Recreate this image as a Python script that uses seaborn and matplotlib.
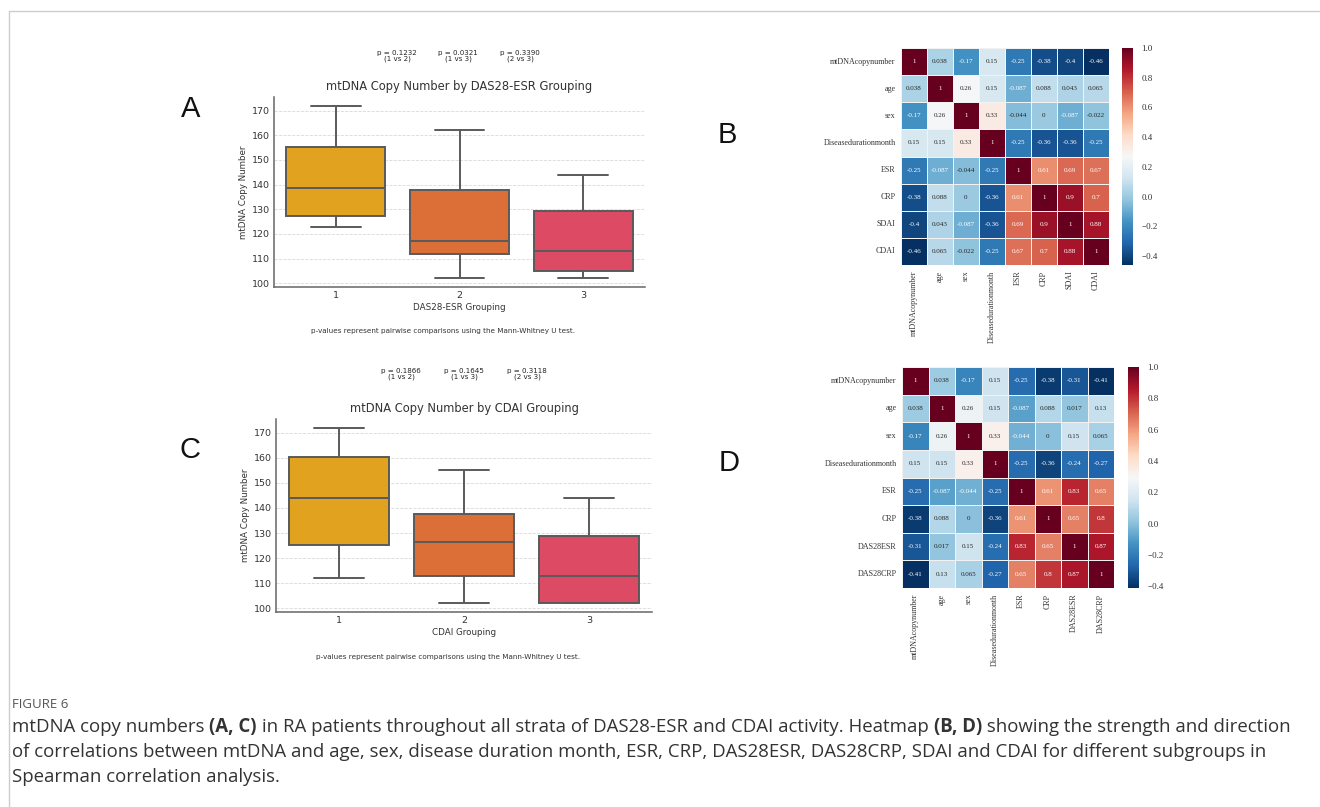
import numpy as np
import pandas as pd
import matplotlib
matplotlib.use("Agg")
import matplotlib.pyplot as plt
from matplotlib.lines import Line2D
import seaborn as sns

W, H = 1320, 807

groups = ["1", "2", "3"]
box_colors = ["#E0A21F", "#DC6E38", "#DD4A64"]

# five-number summaries: whisker low, Q1, median, Q3, whisker high
das28_g1 = [123, 127.3, 138.7, 155.2, 172]
das28_g2 = [102, 112, 117, 138, 162]
das28_g3 = [102, 105, 113, 129.5, 144]
cdai_g1 = [112, 125.3, 144, 160.5, 172]
cdai_g2 = [102, 113, 126.5, 137.5, 155]
cdai_g3 = [102, 102, 113, 129, 144]

das28_p = ["p = 0.1232\n(1 vs 2)", "p = 0.0321\n(1 vs 3)", "p = 0.3390\n(2 vs 3)"]
cdai_p = ["p = 0.1866\n(1 vs 2)", "p = 0.1645\n(1 vs 3)", "p = 0.3118\n(2 vs 3)"]

labels_b = ["mtDNAcopynumber", "age", "sex", "Diseasedurationmonth", "ESR", "CRP", "SDAI", "CDAI"]
corr_b = [
    [1, 0.038, -0.17, 0.15, -0.25, -0.38, -0.4, -0.46],
    [0.038, 1, 0.26, 0.15, -0.087, 0.088, 0.043, 0.065],
    [-0.17, 0.26, 1, 0.33, -0.044, 0, -0.087, -0.022],
    [0.15, 0.15, 0.33, 1, -0.25, -0.36, -0.36, -0.25],
    [-0.25, -0.087, -0.044, -0.25, 1, 0.61, 0.69, 0.67],
    [-0.38, 0.088, 0, -0.36, 0.61, 1, 0.9, 0.7],
    [-0.4, 0.043, -0.087, -0.36, 0.69, 0.9, 1, 0.88],
    [-0.46, 0.065, -0.022, -0.25, 0.67, 0.7, 0.88, 1],
]

labels_d = ["mtDNAcopynumber", "age", "sex", "Diseasedurationmonth", "ESR", "CRP", "DAS28ESR", "DAS28CRP"]
corr_d = [
    [1, 0.038, -0.17, 0.15, -0.25, -0.38, -0.31, -0.41],
    [0.038, 1, 0.26, 0.15, -0.087, 0.088, 0.017, 0.13],
    [-0.17, 0.26, 1, 0.33, -0.044, 0, 0.15, 0.065],
    [0.15, 0.15, 0.33, 1, -0.25, -0.36, -0.24, -0.27],
    [-0.25, -0.087, -0.044, -0.25, 1, 0.61, 0.83, 0.65],
    [-0.38, 0.088, 0, -0.36, 0.61, 1, 0.65, 0.8],
    [-0.31, 0.017, 0.15, -0.24, 0.83, 0.65, 1, 0.87],
    [-0.41, 0.13, 0.065, -0.27, 0.65, 0.8, 0.87, 1],
]

sns.set_style("white")
plt.rcParams["font.family"] = ["DejaVu Sans"]

fig = plt.figure(figsize=(W / 100, H / 100), dpi=100)


def px_axes(l, t, r, b):
    return fig.add_axes([l / W, 1 - b / H, (r - l) / W, (b - t) / H])


def px_text(x, y, s, **kw):
    return fig.text(x / W, 1 - y / H, s, **kw)


def draw_box(ax, g1, g2, g3, title, xlabel):
    df = pd.DataFrame({
        "group": [groups[0]] * len(g1) + [groups[1]] * len(g2) + [groups[2]] * len(g3),
        "value": g1 + g2 + g3,
    })
    sns.boxplot(data=df, x="group", y="value", hue="group", palette=box_colors,
                saturation=1, width=0.8, linewidth=1.4, linecolor="#5a5a5a",
                legend=False, ax=ax)
    ax.set_title(title, fontsize=8.3, color="#333333", pad=5)
    ax.set_xlabel(xlabel, fontsize=6.3, color="#333333", labelpad=2)
    ax.set_ylabel("mtDNA Copy Number", fontsize=6.3, color="#333333", labelpad=3)
    ax.set_yticks([100, 110, 120, 130, 140, 150, 160, 170])
    ax.tick_params(labelsize=6.8, colors="#333333", length=0, pad=3)
    ax.yaxis.grid(True, linestyle="--", color="#d9d9d9", linewidth=0.6)
    ax.xaxis.grid(False)
    ax.set_axisbelow(True)
    for s in ["top", "right"]:
        ax.spines[s].set_visible(False)
    for s in ["left", "bottom"]:
        ax.spines[s].set_color("#666666")
        ax.spines[s].set_linewidth(1.1)


def draw_heat(ax, cax, corr, labels):
    df = pd.DataFrame(corr, index=labels, columns=labels)
    sns.heatmap(df, ax=ax, cbar_ax=cax, cmap="RdBu_r", annot=True, fmt=".2g",
                annot_kws={"size": 5.0, "family": "Liberation Serif"},
                linewidths=0.4, linecolor="#f2f2f2")
    ax.set_xticklabels(labels, rotation=90, fontsize=5.8, family="Liberation Serif", color="#333333")
    ax.set_yticklabels(labels, rotation=0, fontsize=5.8, family="Liberation Serif", color="#333333")
    ax.tick_params(length=0, pad=4)
    cax.tick_params(labelsize=6.5, length=0, pad=6)
    for t in cax.get_yticklabels():
        t.set_family("Liberation Serif")
        t.set_color("#333333")


# A
axA = px_axes(274, 97, 645, 287)
draw_box(axA, das28_g1, das28_g2, das28_g3, "mtDNA Copy Number by DAS28-ESR Grouping", "DAS28-ESR Grouping")
for x, s in zip([397, 458, 520], das28_p):
    px_text(x, 56, s, ha="center", va="center", fontsize=5.1, color="#222222", linespacing=1.0)
px_text(443, 331, "p-values represent pairwise comparisons using the Mann-Whitney U test.",
        ha="center", va="center", fontsize=5.2, color="#333333")

# C
axC = px_axes(276, 419, 652, 612)
draw_box(axC, cdai_g1, cdai_g2, cdai_g3, "mtDNA Copy Number by CDAI Grouping", "CDAI Grouping")
for x, s in zip([401, 464, 527], cdai_p):
    px_text(x, 374, s, ha="center", va="center", fontsize=5.1, color="#222222", linespacing=1.0)
px_text(448, 657, "p-values represent pairwise comparisons using the Mann-Whitney U test.",
        ha="center", va="center", fontsize=5.2, color="#333333")

# B
axB = px_axes(901, 48, 1109, 265)
caxB = px_axes(1122, 48, 1133, 265)
draw_heat(axB, caxB, corr_b, labels_b)

# D
axD = px_axes(902, 367, 1114, 588)
caxD = px_axes(1128, 367, 1139, 588)
draw_heat(axD, caxD, corr_d, labels_d)

# panel letters
for x, y, s in [(191, 109, "A"), (727, 135, "B"), (190, 450, "C"), (729, 463, "D")]:
    px_text(x, y, s, ha="center", va="center", fontsize=21, family="Liberation Sans", color="#111111")

# frame lines
fig.add_artist(Line2D([9 / W, 1], [1 - 11 / H, 1 - 11 / H], transform=fig.transFigure, color="#cccccc", lw=1))
fig.add_artist(Line2D([9 / W, 9 / W], [1 - 11 / H, 0], transform=fig.transFigure, color="#cccccc", lw=1))

# caption
cap_font = ["Open Sans", "DejaVu Sans"]
cap_size = 13.4
px_text(12, 705, "FIGURE 6", ha="left", va="center", fontsize=9.5, family=cap_font, color="#555555")
cap_lines = [
    [("mtDNA copy numbers ", "normal"), ("(A, C)", "bold"),
     (" in RA patients throughout all strata of DAS28-ESR and CDAI activity. Heatmap ", "normal"),
     ("(B, D)", "bold"), (" showing the strength and direction", "normal")],
    [("of correlations between mtDNA and age, sex, disease duration month, ESR, CRP, DAS28ESR, DAS28CRP, SDAI and CDAI for different subgroups in", "normal")],
    [("Spearman correlation analysis.", "normal")],
]
renderer = fig.canvas.get_renderer()
for y, parts in zip([727, 752, 777], cap_lines):
    x = 12
    for s, wgt in parts:
        t = px_text(x, y, s, ha="left", va="center", fontsize=cap_size, family=cap_font,
                    weight=wgt, color="#333333")
        x += t.get_window_extent(renderer).width

fig.savefig("out.png", dpi=100)
